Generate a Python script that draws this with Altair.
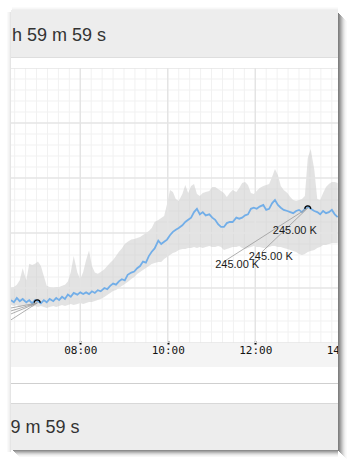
import altair as alt
import pandas as pd

# ---------------- data ----------------
minutes = [385, 389, 393, 397, 401, 406, 410, 414, 418, 422, 426, 430, 434, 438, 443, 447, 451, 455, 459, 463,
           467, 471, 476, 480, 484, 488, 492, 496, 500, 504, 508, 513, 517, 521, 525, 529, 533, 537, 541, 545,
           550, 554, 558, 562, 566, 570, 574, 578, 582, 587, 591, 595, 599, 603, 607, 611, 615, 620, 624, 628,
           632, 636, 640, 644, 648, 652, 657, 661, 665, 669, 673, 677, 681, 685, 689, 694, 698, 702, 706, 710,
           714, 718, 722, 726, 731, 735, 739, 743, 747, 751, 755, 759, 764, 768, 772, 776, 780, 784, 788, 792,
           796, 801, 805, 809, 813, 817, 821, 825, 829, 833]

mean_k = [39, 37, 41, 38, 40, 37, 39, 36, 39, 38, 36, 39, 37, 40, 38, 41, 39, 42, 40, 44,
          42, 45.5, 44, 46, 44.5, 46, 44.5, 47, 45.5, 48, 47, 50, 49, 52, 54, 53, 56, 58, 57, 62,
          64, 65, 68, 70, 74, 73, 79, 83, 86, 93, 90, 92, 94, 98, 101, 103, 104.5, 107, 110, 112,
          114, 119, 122, 117, 119, 116, 117, 114, 112, 108, 105.5, 105.5, 109, 110, 110, 114, 113, 114, 116, 117,
          122, 123, 122, 124, 125.5, 121, 122, 127, 130, 125.5, 123, 121, 120, 119, 118, 120, 121, 119, 122, 124,
          122, 120, 119, 117, 120, 118, 119, 121, 117, 114.5]

low_k = [34.5, 33.6, 34.5, 32.7, 33.6, 34.5, 33.6, 32.7, 33.6, 32.7, 33.6, 32.7, 31.8, 32.7, 33.6, 32.7, 33.6, 34.5, 33.6, 34.5,
         35.5, 34.5, 35.5, 36.4, 35.5, 36.4, 37.3, 37.3, 38.2, 39.1, 40, 41.8, 43.6, 45.5, 47.3, 48.2, 50, 51.8, 53.6, 55.5,
         58.2, 60, 62.7, 64.5, 66.4, 68.2, 70, 71.8, 72.7, 73.6, 73.6, 76.4, 78.2, 80, 81.8, 82.7, 84.5, 85.5, 85.5, 86.4,
         86.4, 87.3, 86.4, 87.3, 86.4, 87.3, 88.2, 87.3, 87.3, 88.2, 87.3, 84.5, 85.5, 86.4, 87.3, 87.3, 88.2, 86.4, 85.5, 86.4,
         87.3, 88.2, 87.3, 87.3, 86.4, 86.4, 87.3, 88.2, 88.2, 87.3, 87.3, 86.4, 85.5, 84.5, 83.6, 82.7, 80.9, 80, 80.9, 82.7,
         83.6, 84.5, 86.4, 87.3, 89.1, 89.1, 90, 90.9, 90.9, 90.9]

high_k = [50, 51, 53, 57, 68, 57, 72, 71, 72, 74, 70, 61, 52, 51, 50, 51, 51, 52, 53, 56,
          64.5, 79, 64, 58, 64.5, 75.5, 84, 70, 64, 63, 64.5, 67, 70, 73, 75.5, 79, 83, 86, 90, 92,
          94, 94.5, 95.5, 96.4, 98.2, 100, 101.8, 104.5, 110, 111.8, 113.6, 115.5, 126.4, 139.1, 137.3, 130.9, 129.1, 135.5, 143.6, 136.4,
          142.7, 144.5, 135.5, 133.6, 136.4, 137.3, 138.2, 141.8, 141.8, 140, 138.2, 136.4, 132.7, 136.4, 139.1, 137.3, 140.9, 145.5, 146.4, 143.6,
          136.4, 135.5, 138.2, 140.9, 142.7, 143.6, 144.5, 150.9, 158.2, 152.7, 142.7, 139.1, 136.4, 132.7, 130, 129.1, 130, 130.9, 133.6, 168.2,
          176.4, 157.3, 130.9, 130, 136.4, 141.8, 144.5, 146.4, 146.4, 145.5]

x_tick_minutes = [480, 600, 720, 840]          # 08:00 10:00 12:00 14:00
x_major_grid = [360, 480, 600, 720, 840]
x_minor_grid = [m for m in range(375, 860, 15) if m % 120]
y_major_grid = [0, 50, 100, 150, 200, 250]
y_minor_grid = [v for v in range(0, 251, 10) if v % 50]

marker_minutes = [421, 792]
marker_values = [38.2, 123.6]

label_minutes = [744, 711, 665]
label_values = [101.8, 78.2, 70.9]
label_texts = ["245.00 K", "245.00 K", "245.00 K"]

leader_from_minutes = [676, 729, 342, 342, 342, 342]
leader_from_values = [73.6, 82.7, 2.7, 14.5, 20.5, 26.4]
leader_to_minutes = [792, 792, 421, 421, 421, 421]
leader_to_values = [122.7, 122.7, 36.4, 36.4, 36.4, 36.4]

header_text = "h 59 m 59 s"
footer_text = "9 m 59 s"

# ---------------- layout ----------------
W, H = 357, 470
PL, PT = 11, 68            # plot origin on the page
PW, PH = 346, 275          # plot size

series = pd.DataFrame({"minutes": minutes, "mean": mean_k, "low": low_k, "high": high_k})
markers = pd.DataFrame({"minutes": marker_minutes, "value": marker_values})
labels = pd.DataFrame({"minutes": label_minutes, "value": label_values, "text": label_texts})
leaders = pd.DataFrame({"m1": leader_from_minutes, "v1": leader_from_values,
                        "m2": leader_to_minutes, "v2": leader_to_values})
one = pd.DataFrame({"k": [0]})

xs = alt.Scale(domain=[385, 859.5], nice=False, zero=False)
ys = alt.Scale(domain=[0, 250], nice=False, zero=False)

time_axis = alt.Axis(
    values=x_tick_minutes, labelExpr="utcFormat(datum.value * 60000, '%H:%M')",
    grid=False, domain=False, ticks=True, tickColor="#000000", tickSize=3, tickWidth=2,
    offset=-2, labelPadding=0, labelFont="DejaVu Sans Mono", labelFontSize=11,
    labelColor="#111111", labelFlush=False, labelOverlap=False, labelBound=False,
    title=None, zindex=0)


def box(x0, y0, x1, y1, color, opacity=1.0):
    return alt.Chart(one).mark_rect(color=color, opacity=opacity).encode(
        x=alt.value(x0 - PL), x2=alt.value(x1 - PL),
        y=alt.value(y0 - PT), y2=alt.value(y1 - PT))


def X(field):
    # all x layers share one scale; the time axis is declared once, on the first of them
    return alt.X(field, scale=xs)


layers = []
# page margins (white) and panel chrome
layers += [box(0, 0, W, 10, "white"), box(0, 0, PL, H, "white"), box(0, 450, W, H, "white")]
layers += [box(11, 10, 338, 57, "#ededed"), box(11, 57, 338, 58, "#dedede"), box(11, 58, 338, 68, "white")]
layers += [box(11, 367, 338, 403, "white"), box(11, 383, 338, 384, "#cfcfcf"),
           box(11, 403, 338, 404, "#d8d8d8"), box(11, 404, 338, 450, "#ededed")]

# grid (the first x layer carries the time axis)
layers.append(alt.Chart(pd.DataFrame({"g": x_minor_grid})).mark_rule(color="#f1f1f1", strokeWidth=1, clip=True)
              .encode(x=alt.X("g:Q", scale=xs, axis=time_axis)))
layers.append(alt.Chart(pd.DataFrame({"g": y_minor_grid})).mark_rule(color="#f1f1f1", strokeWidth=1, clip=True)
              .encode(y=alt.Y("g:Q", scale=ys, axis=None)))

# min/max band
layers.append(alt.Chart(series).mark_area(color="#c9c9c9", opacity=0.52, clip=True).encode(
    x=X("minutes:Q"), y=alt.Y("high:Q", scale=ys, axis=None), y2="low:Q"))

layers.append(alt.Chart(pd.DataFrame({"g": x_major_grid})).mark_rule(color="#e4e4e4", strokeWidth=1.5, clip=True)
              .encode(x=X("g:Q")))
layers.append(alt.Chart(pd.DataFrame({"g": y_major_grid})).mark_rule(color="#e4e4e4", strokeWidth=1.5, clip=True)
              .encode(y=alt.Y("g:Q", scale=ys, axis=None)))

# mean line
layers.append(alt.Chart(series).mark_line(color="#72aee8", strokeWidth=1.8, clip=True).encode(
    x=X("minutes:Q"), y=alt.Y("mean:Q", scale=ys, axis=None)))

# annotation leader lines, markers and labels
layers.append(alt.Chart(leaders).mark_rule(color="#9a9a9a", strokeWidth=0.8, clip=True).encode(
    x=X("m1:Q"), y=alt.Y("v1:Q", scale=ys, axis=None), x2="m2:Q", y2="v2:Q"))
layers.append(alt.Chart(markers).mark_point(shape="M-1,0.6C-0.9,-0.7,0.9,-0.7,1,0.6", filled=False,
                                            color="#000000", strokeWidth=1.3, size=36, opacity=1, clip=True).encode(
    x=X("minutes:Q"), y=alt.Y("value:Q", scale=ys, axis=None)))
layers.append(alt.Chart(labels).mark_text(align="left", baseline="middle", font="Liberation Sans",
                                          fontSize=11, color="#1a1a1a").encode(
    x=X("minutes:Q"), y=alt.Y("value:Q", scale=ys, axis=None), text="text:N"))

# right page margin covers what runs past the panel edge
layers.append(box(338, 0, W, H, "white"))

# drop shadow
right_op = [0.5, 0.44, 0.36, 0.28, 0.2, 0.13, 0.08, 0.04, 0.02]
for i, op in enumerate(right_op):
    layers.append(box(338 + i, 13 + i, 339 + i, 451 + i, "#000000", op))
bottom_op = [0.45, 0.36, 0.27, 0.18, 0.11, 0.06, 0.03]
for i, op in enumerate(bottom_op):
    layers.append(box(13 + i, 450 + i, 338, 451 + i, "#000000", op))
left_op = [0.1, 0.06, 0.04, 0.02]
for i, op in enumerate(left_op):
    layers.append(box(10 - i, 12, 11 - i, 452, "#000000", op))
top_op = [0.06, 0.03, 0.015]
for i, op in enumerate(top_op):
    layers.append(box(12, 9 - i, 338, 10 - i, "#000000", op))

# header / footer texts
layers.append(alt.Chart(one).mark_text(align="left", baseline="alphabetic", font="Liberation Sans",
                                       fontSize=18, color="#333333").encode(
    x=alt.value(12 - PL), y=alt.value(40.5 - PT), text=alt.value(header_text)))
layers.append(alt.Chart(one).mark_text(align="left", baseline="alphabetic", font="Liberation Sans",
                                       fontSize=18, color="#333333").encode(
    x=alt.value(10.5 - PL), y=alt.value(433.3 - PT), text=alt.value(footer_text)))

chart = alt.layer(*layers).properties(
    width=PW, height=PH,
    padding={"left": PL, "top": PT, "right": W - PL - PW, "bottom": H - PT - PH},
    autosize=alt.AutoSizeParams(type="none"),
    background="#f4f4f4",
).configure_view(stroke=None, fill="white")

chart.save("out.html", embed_options={"renderer": "svg", "actions": False})
